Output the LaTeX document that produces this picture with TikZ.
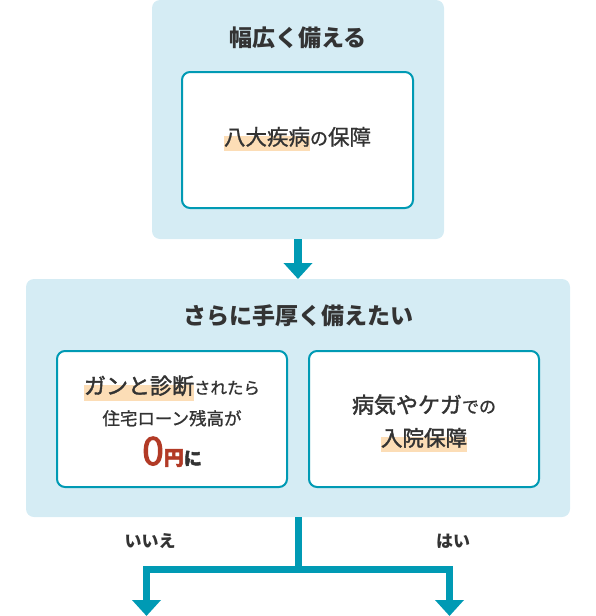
\documentclass[tikz,border=0pt]{standalone}
\usepackage{fontspec}
\setmainfont{Noto Sans CJK JP}
\newfontfamily\medfont[FakeBold=1]{Noto Sans CJK JP}
\newfontfamily\semifont[FakeBold=1.8]{Noto Sans CJK JP}
\newfontfamily\zerofont[FakeBold=2.5]{Noto Sans CJK JP}
\usetikzlibrary{arrows.meta}
\definecolor{panelbg}{HTML}{D5ECF4}
\definecolor{tealc}{HTML}{009AB4}
\definecolor{hlc}{HTML}{FCDDB6}
\definecolor{txt}{HTML}{333333}
\definecolor{zeroc}{HTML}{B23A26}
\newcommand\hlbox[1]{\setbox0=\hbox{#1}\rlap{\color{hlc}\rule[-0.3em]{\wd0}{0.72em}}\box0}
\begin{document}
\begin{tikzpicture}[x=1pt,y=-1pt,
  panel/.style={fill=panelbg, rounded corners=8pt, inner sep=0pt, outer sep=0pt},
  card/.style={fill=white, draw=tealc, line width=2pt, rounded corners=8pt, inner sep=0pt, outer sep=0pt},
  title/.style={font=\bfseries\fontsize{23}{28}\selectfont, text=txt, inner sep=0pt, anchor=base},
  body/.style={text=txt, inner sep=0pt, anchor=base, font=\medfont},
  conn/.style={draw=tealc, line width=8pt},
  tip/.style={-{Triangle[width=28pt,length=16pt]}}]
\useasboundingbox (0,0) rectangle (595,616);
% top panel
\node[panel, minimum width=292pt, minimum height=239pt] (p1) at (298,119.5) {};
\node[title] (t1) at (298,46) {幅広く備える};
\node[card, minimum width=231pt, minimum height=136pt] (c1) at (297.5,140) {};
\node[body] (c1t) at (297.5,145) {\fontsize{21.5}{26}\selectfont\hlbox{八大疾病}{\fontsize{18}{22}\selectfont の}保障};
% second panel
\node[panel, minimum width=544pt, minimum height=238pt] (p2) at (298,398) {};
\node[title] (t2) at (298,324) {さらに手厚く備えたい};
\node[card, minimum width=230pt, minimum height=136pt] (cl) at (172,419) {};
\node[card, minimum width=230pt, minimum height=136pt] (cr) at (424,419) {};
\node[body] (cl1) at (172,394) {\semifont\fontsize{22}{26}\selectfont\hlbox{ガンと診断}\medfont\fontsize{16.5}{20}\selectfont されたら};
\node[body] (cl2) at (172,425) {\fontsize{17.5}{21}\selectfont 住宅ローン残高が};
\node[body] (cl3) at (172,465) {\color{zeroc}\zerofont\fontsize{39}{40}\selectfont 0\bfseries\fontsize{20}{24}\selectfont 円\color{txt}\fontsize{18}{22}\selectfont に};
\node[body] (cr1) at (424,413) {\semifont\fontsize{22}{26}\selectfont 病気やケガ\medfont\fontsize{17}{20}\selectfont での};
\node[body] (cr2) at (424,446) {\semifont\fontsize{21.5}{26}\selectfont\hlbox{入院保障}};
% connectors
\draw[conn, tip] (p1.south) -- (p2.north);
\coordinate (jn) at (298,569.5);
\coordinate (la) at (146.5,616);
\coordinate (ra) at (449.5,616);
\draw[conn, line width=7pt] (p2.south) -- (jn);
\draw[conn, line width=7pt, tip] (jn) -| (la);
\draw[conn, line width=7pt, tip] (jn) -| (ra);
\node[body, font=\bfseries\fontsize{17}{20}\selectfont] (no) at (150,547) {いいえ};
\node[body, font=\bfseries\fontsize{17}{20}\selectfont] (yes) at (453,547) {はい};
\end{tikzpicture}
\end{document}
